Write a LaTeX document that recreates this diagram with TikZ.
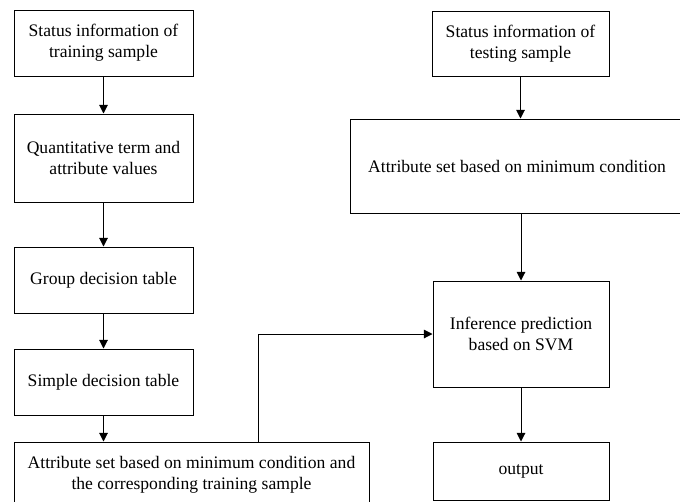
\documentclass[tikz,border=0pt]{standalone}
\usepackage{fontspec}
\setmainfont{Liberation Serif}
\usetikzlibrary{arrows.meta}
\begin{document}
\begin{tikzpicture}[x=0.75pt,y=0.75pt,yscale=-1,xscale=1,
  box/.style={draw, line width=0.75pt, align=center, inner sep=0pt, font=\fontsize{13.2}{15.5}\selectfont},
  arr/.style={line width=0.75pt, -{Triangle[length=6.5pt,width=6.5pt]}}]
\useasboundingbox (0,0) rectangle (680,501);
% left column
\node[box, minimum width=134.25pt, minimum height=49.5pt] (train) at (103.5,43) {Status information of\\training sample};
\node[box, minimum width=134.25pt, minimum height=66pt] (quant) at (103.5,158) {Quantitative term and\\attribute values};
\node[box, minimum width=134.25pt, minimum height=49.5pt] (group) at (103.5,280) {Group decision table};
\node[box, minimum width=134.25pt, minimum height=49.5pt] (simple) at (103.5,382) {Simple decision table};
\node[box, minimum width=266.25pt, minimum height=49.5pt] (attrtrain) at (191.5,475) {Attribute set based on minimum condition and\\the corresponding training sample};
% right column
\node[box, minimum width=132.75pt, minimum height=48.75pt] (test) at (520.5,43.5) {Status information of\\testing sample};
\node[box, minimum width=250.5pt, minimum height=70.5pt] (attrtest) at (517,166) {Attribute set based on minimum condition};
\node[box, minimum width=132pt, minimum height=79.5pt] (infer) at (521,334) {Inference prediction\\based on SVM};
\node[box, minimum width=132pt, minimum height=43.5pt] (output) at (521,471) {output};
\coordinate (turn) at (258,334);
% connectors
\draw[arr] (train) -- (quant);
\draw[arr] (quant) -- (group);
\draw[arr] (group) -- (simple);
\draw[arr] (simple.south) -- (simple.south |- attrtrain.north);
\draw[arr] (turn |- attrtrain.north) -- (turn) -- (infer.west);
\draw[arr] (test.south) -- (test.south |- attrtest.north);
\draw[arr] (infer.north |- attrtest.south) -- (infer.north);
\draw[arr] (infer) -- (output);
\end{tikzpicture}
\end{document}
